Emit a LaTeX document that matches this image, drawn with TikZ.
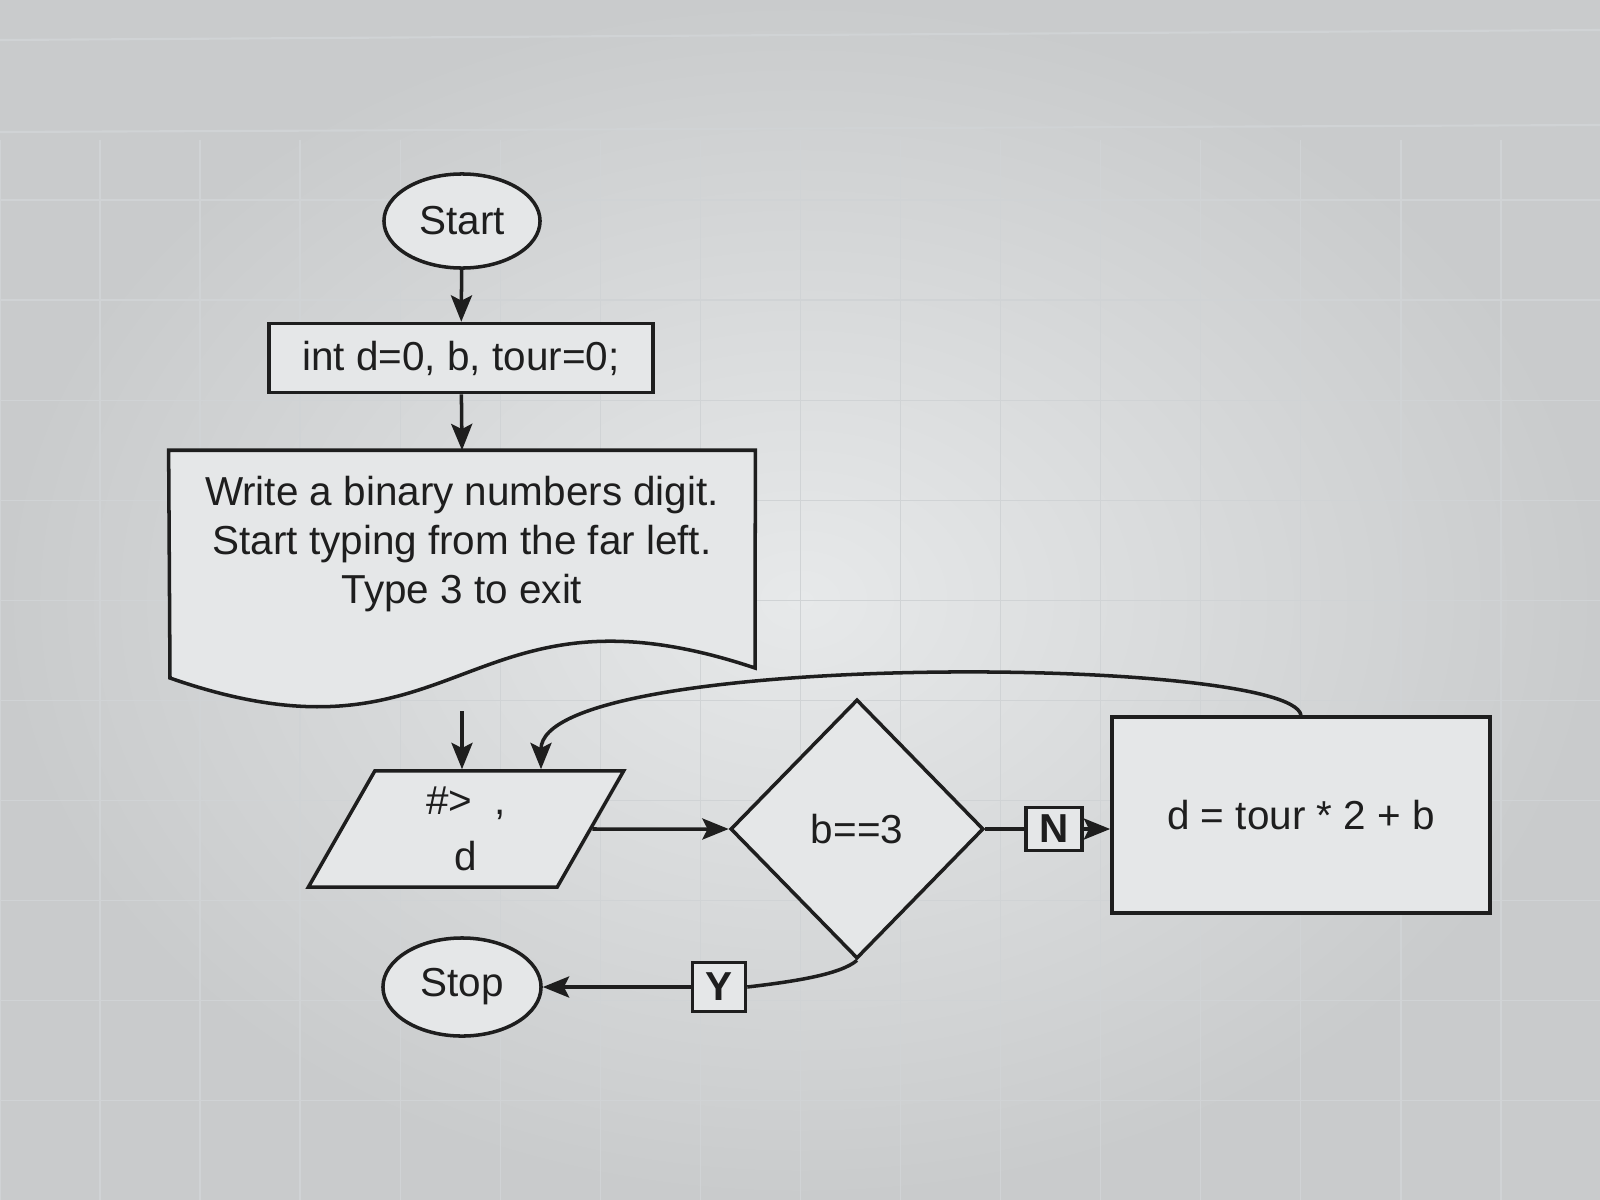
\documentclass[tikz,border=0pt]{standalone}
\usepackage{fontspec}
\setmainfont{Liberation Sans}
\usetikzlibrary{shapes.geometric,arrows.meta,calc}
\definecolor{bglight}{HTML}{E7E9EA}
\definecolor{bgdark}{HTML}{C9CBCC}
\definecolor{boxfill}{HTML}{E5E7E8}
\definecolor{ink}{HTML}{1E1E1E}
\definecolor{gridc}{HTML}{D0D3D5}
\begin{document}
\begin{tikzpicture}[x=0.01cm, y=0.01cm,
    every node/.style={font=\fontsize{11.5}{14}\selectfont, text=ink},
    shp/.style={draw=ink, line width=1pt, fill=boxfill},
    term/.style={shp, ellipse, minimum width=15.6mm, minimum height=9.4mm, inner sep=0pt},
    proc/.style={shp, rectangle, inner sep=0pt},
    iobox/.style={shp, trapezium, trapezium left angle=54, trapezium right angle=126,
                  trapezium stretches body=true, minimum width=31.5mm, minimum height=11.6mm, inner sep=1pt},
    decision/.style={shp, diamond, minimum width=25.3mm, minimum height=25.9mm, inner sep=0pt},
    tag/.style={shp, rectangle, inner sep=0pt, font=\fontsize{11.5}{14}\selectfont\bfseries},
    line/.style={draw=ink, line width=1pt},
    arr/.style={line, -{Stealth[length=7.5pt, width=6pt, inset=1.5pt]}}]
  % background and grid
  \useasboundingbox (0,0) rectangle (1600,-1200);
  \shade[inner color=bglight, outer color=bgdark] (0,0) rectangle (1600,-1200);
  \draw[gridc, line width=0.4pt] (0,-1200) grid[step=1cm] (1600,-140);
  \draw[gridc, line width=0.6pt] (0,-40) -- (1600,-30) (0,-132) -- (1600,-125);

  % nodes
  \node[term] (start) at (462,-221) {Start};
  \node[proc, minimum width=38.4mm, minimum height=6.9mm] (init) at (461,-358) {int d=0, b, tour=0;};
  \node[minimum width=58.5mm, minimum height=18.6mm, inner sep=0pt] (doc) at (462,-544) {};
  \draw[shp] (doc.north west) -- (doc.north east) -- (755,-668)
        .. controls (462,-570) and (462,-780) .. (170,-678) -- cycle;
  \node[align=center] (doctext) at (doc.center) {Write a binary numbers digit.\\Start typing from the far left.\\Type 3 to exit};
  \coordinate (doc-exit) at (462,-711);
  \node[iobox, align=center] (io) at (466,-829) {\#>~~,\\[2pt]d};
  \coordinate (io-in1) at (doc-exit |- io.north);
  \coordinate (io-in2) at (541,0 |- io.north);
  \node[decision] (dec) at (857,-829) {b==3};
  \node[tag, minimum width=5.6mm, minimum height=4.3mm] (nlab) at (1054,-829) {N};
  \node[proc, minimum width=37.8mm, minimum height=19.6mm] (rc) at (1301,-815) {d = tour * 2 + b};
  \node[tag, minimum width=5.3mm, minimum height=4.9mm] (ylab) at (719,-987) {Y};
  \node[term, minimum width=15.8mm, minimum height=9.8mm] (stop) at (462,-987) {Stop};

  % connectors
  \draw[arr] (start) -- (init);
  \draw[arr] (init) -- (doc.north);
  \draw[arr] (doc-exit) -- (io-in1);
  \draw[arr] (rc.north) .. controls (1290,-655) and (541,-650) .. (io-in2);
  \draw[arr] (io.east) -- (dec.west);
  \draw[line] (dec.east) -- (nlab.west);
  \draw[arr] (nlab.east) -- (nlab.east -| rc.west);
  \draw[line] (dec.south) .. controls (840,-975) and (790,-982) .. (ylab.east);
  \draw[arr] (ylab.west) -- (stop.east);
\end{tikzpicture}
\end{document}
